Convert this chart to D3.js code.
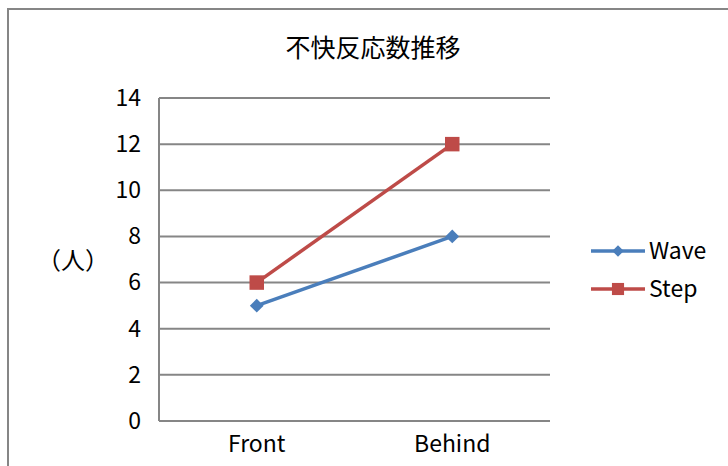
<!DOCTYPE html>
<meta charset="utf-8">
<script src="https://d3js.org/d3.v7.min.js"></script>
<style>
  body { margin: 0; background: #fff; }
  text { font-family: "Noto Sans CJK JP", "Noto Sans", sans-serif; fill: #000; }
</style>
<div id="chart"></div>
<script>

// data
var categories = ["Front", "Behind"];
var seriesNames = ["Wave", "Step"];
var waveValues = [5, 8];
var stepValues = [6, 12];
var yTicks = [0, 2, 4, 6, 8, 10, 12, 14];
var colors = ["#4A7EBB", "#BE4B48"];

var W = 728, H = 466;
var margin = {top: 98, left: 159},
    width = 391,
    height = 323;

var svg = d3.select("#chart").append("svg")
    .attr("width", W)
    .attr("height", H);

// outer frame (cut off at right/bottom like the original)
svg.append("rect")
    .attr("x", 8).attr("y", 9)
    .attr("width", W + 20).attr("height", H + 20)
    .attr("fill", "none")
    .attr("stroke", "#868686")
    .attr("stroke-width", 2);

// title
svg.append("text")
    .attr("x", 373).attr("y", 57)
    .attr("font-size", "25px")
    .style("text-anchor", "middle")
    .text("不快反応数推移");

var g = svg.append("g")
    .attr("transform", "translate(" + margin.left + "," + margin.top + ")");

var x = d3.scaleBand()
    .domain(categories)
    .range([0, width]);

var y = d3.scaleLinear()
    .domain([0, 14])
    .range([height, 0]);

// gridlines
g.selectAll("line.grid")
  .data(yTicks)
  .enter().append("line")
    .attr("class", "grid")
    .attr("x1", 0).attr("x2", width)
    .attr("y1", function(d) { return y(d); })
    .attr("y2", function(d) { return y(d); })
    .attr("stroke", "#868686")
    .attr("stroke-width", 2);

// y axis line
g.append("line")
    .attr("x1", 0).attr("x2", 0)
    .attr("y1", 0).attr("y2", height)
    .attr("stroke", "#868686")
    .attr("stroke-width", 2);

// y axis labels
var yAxis = d3.axisLeft(y).tickValues(yTicks).tickSize(0).tickPadding(18);
var ya = g.append("g").call(yAxis);
ya.select(".domain").remove();
ya.selectAll("text")
    .attr("font-size", "23px")
    .style("font-family", "'Noto Sans CJK JP', sans-serif");

// x axis labels
var xAxis = d3.axisBottom(x).tickSize(0).tickPadding(15);
var xa = g.append("g")
    .attr("transform", "translate(0," + height + ")")
    .call(xAxis);
xa.select(".domain").remove();
xa.selectAll("text")
    .attr("font-size", "23px")
    .style("font-family", "'Noto Sans CJK JP', sans-serif");

// y axis title
svg.append("text")
    .attr("x", 73).attr("y", 269)
    .attr("font-size", "24px")
    .style("text-anchor", "middle")
    .text("（人）");

var cx = function(i) { return x(categories[i]) + x.bandwidth() / 2; };
var line = d3.line()
    .x(function(d, i) { return cx(i); })
    .y(function(d) { return y(d); });

var allSeries = [waveValues, stepValues];
// diamond = square turned 45 degrees
var rotations = [45, 0];
var symSizes = [95, 210];

allSeries.forEach(function(vals, s) {
  g.append("path")
      .datum(vals)
      .attr("d", line)
      .attr("fill", "none")
      .attr("stroke", colors[s])
      .attr("stroke-width", 3.5);
  g.selectAll("path.m" + s)
    .data(vals)
    .enter().append("path")
      .attr("class", "m" + s)
      .attr("d", d3.symbol().type(d3.symbolSquare).size(symSizes[s]))
      .attr("transform", function(d, i) {
        return "translate(" + cx(i) + "," + y(d) + ") rotate(" + rotations[s] + ")";
      })
      .attr("fill", colors[s]);
});

// legend
var legend = svg.append("g");
seriesNames.forEach(function(name, s) {
  var ly = 251 + s * 38;
  legend.append("line")
      .attr("x1", 591).attr("x2", 645)
      .attr("y1", ly).attr("y2", ly)
      .attr("stroke", colors[s])
      .attr("stroke-width", 3.5);
  legend.append("path")
      .attr("d", d3.symbol().type(d3.symbolSquare).size(symSizes[s] * 0.7))
      .attr("transform", "translate(618," + ly + ") rotate(" + rotations[s] + ")")
      .attr("fill", colors[s]);
  legend.append("text")
      .attr("x", 649).attr("y", ly + 8)
      .attr("font-size", "23px")
      .text(name);
});

</script>
